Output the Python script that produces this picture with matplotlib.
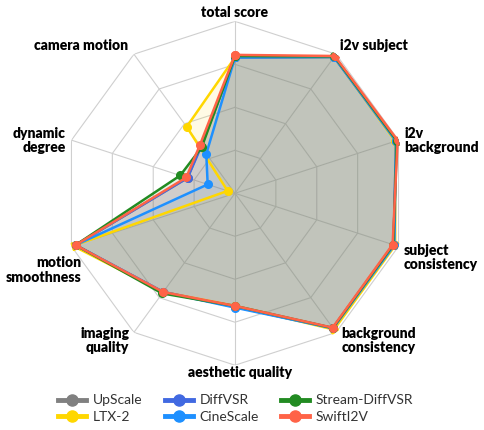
import numpy as np
import matplotlib
matplotlib.use("Agg")
from matplotlib import pyplot as plt
from matplotlib.lines import Line2D

# axes, clockwise from the top
labels = ["total score", "i2v subject", "i2v\nbackground", "subject\nconsistency",
          "background\nconsistency", "aesthetic quality", "imaging\nquality",
          "motion\nsmoothness", "dynamic\ndegree", "camera motion"]

# normalised scores (0..1)
upscale = [0.79, 0.98, 0.985, 0.97, 0.97, 0.66, 0.71, 0.975, 0.29, 0.34]
ltx2 = [0.79, 0.98, 0.98, 0.98, 0.98, 0.655, 0.71, 0.99, 0.045, 0.478]
diffvsr = [0.79, 0.98, 0.985, 0.97, 0.97, 0.66, 0.71, 0.975, 0.29, 0.335]
cinescale = [0.79, 0.98, 0.985, 0.975, 0.97, 0.665, 0.71, 0.975, 0.167, 0.284]
stream = [0.798, 0.984, 0.99, 0.968, 0.968, 0.655, 0.72, 0.975, 0.335, 0.33]
swift = [0.805, 0.987, 0.995, 0.964, 0.966, 0.655, 0.71, 0.975, 0.298, 0.347]

names = ["UpScale", "LTX-2", "DiffVSR", "CineScale", "Stream-DiffVSR", "SwiftI2V"]
series = [upscale, ltx2, diffvsr, cinescale, stream, swift]
colors = ["gray", "gold", "royalblue", "dodgerblue", "forestgreen", "tomato"]

plt.rcParams['font.family'] = ['Lato', 'DejaVu Sans']

n = len(labels)
ang = np.linspace(0, 2 * np.pi, n, endpoint=False)
ang_c = np.append(ang, ang[0])

fig = plt.figure(figsize=(4.85, 4.3), dpi=100)
ax = fig.add_axes([0.130, 0.1505, 0.709, 0.8], polar=True)
ax.set_theta_offset(np.pi / 2)
ax.set_theta_direction(-1)
ax.set_ylim(0, 1)
ax.grid(False)
ax.spines['polar'].set_visible(False)
ax.set_xticks([])
ax.set_yticks([])

# polygon grid
for r in [0.25, 0.5, 0.75, 1.0]:
    ax.plot(ang_c, [r] * (n + 1), color="#cfcfcf", lw=0.8, zorder=0)
for a in ang:
    ax.plot([a, a], [0, 1], color="#cfcfcf", lw=0.8, zorder=0)

for vals, c in zip(series, colors):
    v = np.append(vals, vals[0])
    ax.fill(ang_c, v, color=c, alpha=0.1, lw=0, zorder=1)
    ax.plot(ang_c, v, color=c, lw=1.8, marker="o", ms=5.5, zorder=2)

# label offsets (points) from the outer vertex
offs = [(0, 2, "center", "bottom"), (3, 6.5, "left", "center"), (4, 0, "left", "center"),
        (3.5, -8, "left", "center"), (4, -6, "left", "center"), (4, -5.5, "center", "center"),
        (-3.5, -6, "right", "center"), (7, -17, "right", "center"), (-4, 0, "right", "center"),
        (-4, 6.5, "right", "center")]
for a, lab, (dx, dy, ha, va) in zip(ang, labels, offs):
    ax.annotate(lab, xy=(a, 1.0), xytext=(dx, dy), textcoords="offset points",
                ha=ha, va=va, fontsize=10, fontweight="heavy", linespacing=1.1,
                color="black", annotation_clip=False)

handles = [Line2D([0], [0], color=c, lw=3.5, marker="o", ms=8) for c in colors]
fig.legend(handles, names, loc="center", bbox_to_anchor=(0.486, 0.05), ncol=3,
           frameon=False, fontsize=10, handlelength=2.0, handletextpad=0.5,
           columnspacing=1.6, labelspacing=0.3, labelcolor="#333333")

fig.savefig("out.png", dpi=100)
